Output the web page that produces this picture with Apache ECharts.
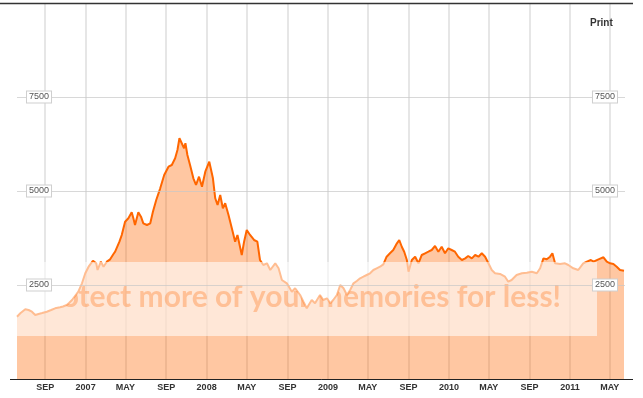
<!DOCTYPE html>
<html><head><meta charset="utf-8">
<script src="https://cdn.jsdelivr.net/npm/echarts@6/dist/echarts.min.js"></script>
<style>html,body{margin:0;padding:0;background:#fff}#c{width:643px;height:398px}</style>
</head><body><div id="c"></div>
<script>
const dates = ['2006-06-08','2006-06-18','2006-07-03','2006-07-13','2006-07-23','2006-08-02','2006-08-12','2006-08-23','2006-09-06','2006-09-19','2006-10-01','2006-10-16','2006-10-25','2006-11-05','2006-11-12','2006-11-21','2006-11-30','2006-12-10','2006-12-21','2006-12-31',
'2007-01-10','2007-01-23','2007-02-02','2007-02-06','2007-02-16','2007-02-24','2007-03-06','2007-03-16','2007-03-26','2007-03-31','2007-04-13','2007-04-20','2007-04-30','2007-05-10','2007-05-20','2007-05-25','2007-05-30','2007-06-09','2007-06-17','2007-06-24','2007-07-05','2007-07-15','2007-07-23','2007-08-02','2007-08-14','2007-08-26','2007-09-08','2007-09-18','2007-09-28','2007-10-05','2007-10-11','2007-10-18','2007-10-25','2007-10-29','2007-11-04','2007-11-12','2007-11-22','2007-11-30','2007-12-09','2007-12-18','2007-12-28',
'2008-01-09','2008-01-13','2008-01-20','2008-01-27','2008-02-03','2008-02-11','2008-02-19','2008-02-26','2008-03-07','2008-03-17','2008-03-27','2008-04-03','2008-04-16','2008-04-23','2008-05-01','2008-05-11','2008-05-23','2008-06-02','2008-06-10','2008-06-20','2008-07-01','2008-07-11','2008-07-26','2008-08-05','2008-08-15','2008-08-30','2008-09-14','2008-09-24','2008-09-29','2008-10-09','2008-10-19','2008-10-29','2008-11-13','2008-11-23','2008-12-08','2008-12-18','2008-12-29',
'2009-01-08','2009-01-17','2009-01-28','2009-02-07','2009-02-17','2009-02-27','2009-03-09','2009-03-19','2009-03-29','2009-04-08','2009-04-18','2009-04-28','2009-05-08','2009-05-18','2009-05-28','2009-06-07','2009-06-17','2009-06-27','2009-07-07','2009-07-17','2009-07-28','2009-08-04','2009-08-12','2009-08-19','2009-08-27','2009-09-01','2009-09-11','2009-09-21','2009-10-01','2009-10-11','2009-10-21','2009-10-31','2009-11-10','2009-11-20','2009-11-30','2009-12-10','2009-12-20','2009-12-30',
'2010-01-09','2010-01-19','2010-01-29','2010-02-09','2010-02-19','2010-02-28','2010-03-11','2010-03-21','2010-03-31','2010-04-10','2010-04-20','2010-04-30','2010-05-10','2010-05-20','2010-06-04','2010-06-19','2010-06-29','2010-07-09','2010-07-24','2010-08-09','2010-08-24','2010-09-08','2010-09-23','2010-10-03','2010-10-13','2010-10-23','2010-11-02','2010-11-09','2010-11-17','2010-12-02','2010-12-17','2010-12-27',
'2011-01-11','2011-01-26','2011-02-10','2011-02-21','2011-03-05','2011-03-13','2011-03-28','2011-04-12','2011-04-22','2011-05-02','2011-05-12','2011-05-22','2011-06-01','2011-06-13'];
const values = [1657,1747,1854,1835,1790,1702,1729,1755,1790,1835,1880,1907,1928,1968,2021,2101,2207,2322,2545,2811,
2987,3146,3077,2899,3120,2987,3120,3183,3325,3386,3652,3830,4184,4274,4433,4274,4096,4433,4317,4140,4096,4140,4450,4761,5071,5426,5647,5691,5870,6091,6402,6269,6136,6269,5958,5691,5338,5160,5381,5115,5514,
5780,5798,5338,4806,4628,4894,4540,4673,4362,4008,3652,3830,3298,3652,3963,3830,3697,3652,3165,3032,3077,2899,3077,2944,2633,2545,2322,2412,2455,2234,2056,1880,2101,2013,2234,2101,2146,
2013,2101,2234,2500,2412,2234,2367,2545,2606,2678,2721,2766,2811,2899,2944,2987,3050,3253,3343,3431,3609,3697,3511,3386,3165,2854,3165,3253,3077,3298,3343,3386,3431,3537,3386,3519,3343,3476,
3431,3386,3253,3165,3209,3271,3209,3298,3253,3343,3253,3077,2899,2811,2793,2721,2588,2633,2766,2811,2827,2854,2811,2944,3209,3183,3253,3343,3077,3059,3077,3032,
2944,2899,3077,3120,3165,3120,3183,3237,3120,3077,3059,2987,2899,2880];
const tickDates = ['2006-09-01','2007-01-01','2007-05-01','2007-09-01','2008-01-01','2008-05-01','2008-09-01','2009-01-01','2009-05-01','2009-09-01','2010-01-01','2010-05-01','2010-09-01','2011-01-01','2011-05-01'];
const tickLabels = ['SEP','2007','MAY','SEP','2008','MAY','SEP','2009','MAY','SEP','2010','MAY','SEP','2011','MAY'];
const yTicks = [2500, 5000, 7500];
const xRange = ['2006-06-08', '2011-06-16'];
const yRange = [0, 10000];
const watermarkText = 'Protect more of your memories for less!';

function toTime(s){ const p = s.split('-'); return Date.UTC(+p[0], +p[1]-1, +p[2]); }
const tickTimes = tickDates.map(toTime);
const seriesData = dates.map((d,i)=>[toTime(d), values[i]]);
function xLabel(v){
  let best=-1, bd=Infinity;
  tickTimes.forEach((t,i)=>{ const dd=Math.abs(t-v); if(dd<bd){bd=dd;best=i;} });
  return bd < 3*864e5 ? tickLabels[best] : '';
}
const FONT = "'Liberation Sans', Arial, sans-serif";
const yLabel = {
  inside: true,
  customValues: yTicks,
  formatter: v => String(v),
  color: '#555', fontSize: 9, fontFamily: FONT,
  backgroundColor: '#fff', borderColor: '#cfcfcf', borderWidth: 1,
  padding: [1, 2, 1, 2], verticalAlign: 'middle'
};
const chart = echarts.init(document.getElementById('c'), null, {renderer:'canvas'});
chart.setOption({
  animation: false,
  backgroundColor: '#fff',
  grid: { left: 17, right: 18, top: 3, bottom: 19, containLabel: false, outerBoundsMode: 'none' },
  xAxis: {
    type: 'value', min: toTime(xRange[0]), max: toTime(xRange[1]),
    axisLine: { show: true, lineStyle: { color: '#222', width: 1 } },
    axisTick: { show: false, customValues: tickTimes },
    axisLabel: { customValues: tickTimes, formatter: xLabel, color: '#333', fontWeight: 'bold', fontSize: 9, fontFamily: FONT, margin: 4, hideOverlap: false },
    splitLine: { show: true, lineStyle: { color: '#e6e6e6', width: 2 } }
  },
  yAxis: [
    { type: 'value', min: yRange[0], max: yRange[1], interval: 2500, position: 'left', z: 102,
      axisLine: { show: false }, axisTick: { show: false },
      axisLabel: Object.assign({}, yLabel, { margin: 10 }),
      splitLine: { show: true, lineStyle: { color: 'rgba(200,200,200,0.7)', width: 1 } } },
    { type: 'value', min: yRange[0], max: yRange[1], interval: 2500, position: 'right', z: 102,
      axisLine: { show: false }, axisTick: { show: false },
      axisLabel: Object.assign({}, yLabel, { margin: 8 }),
      splitLine: { show: false } }
  ],
  series: [{
    type: 'line', data: seriesData, showSymbol: false, symbol: 'none', smooth: false,
    lineStyle: { color: '#ff6600', width: 2 },
    areaStyle: { color: 'rgba(255,102,0,0.52)', origin: 'start' },
    z: 2
  }, {
    type: 'custom', coordinateSystem: 'cartesian2d', clip: false, z: 101, silent: true,
    data: [[toTime(dates[0]), 0]],
    renderItem: function (params, api) {
      const pts = seriesData.map(p => api.coord(p));
      pts.push(api.coord([seriesData[seriesData.length-1][0], 0]));
      pts.push(api.coord([seriesData[0][0], 0]));
      return {
        type: 'group',
        clipPath: { type: 'polygon', shape: { points: pts } },
        children: [{
          type: 'text', x: 561, y: 297,
          style: { text: watermarkText, font: "bold 30px Lato, 'Open Sans', sans-serif", fill: 'rgba(255,102,0,0.3)', align: 'right', verticalAlign: 'middle' }
        }]
      };
    }
  }],
  graphic: [
    { type: 'rect', z: 100, shape: { x: 0, y: 262, width: 597, height: 74 }, style: { fill: 'rgba(255,255,255,0.57)' } },
    { type: 'line', z: 110, shape: { x1: 0, y1: 3.5, x2: 633, y2: 3.5 }, style: { stroke: '#333', lineWidth: 1.5 } },
    { type: 'line', z: 110, shape: { x1: 10, y1: 379.5, x2: 633, y2: 379.5 }, style: { stroke: '#222', lineWidth: 1 } },
    { type: 'text', z: 110, x: 590, y: 23, style: { text: 'Print', font: "bold 10px 'Liberation Sans', Arial, sans-serif", fill: '#333', align: 'left', verticalAlign: 'middle' } }
  ]
});
</script>
</body></html>
